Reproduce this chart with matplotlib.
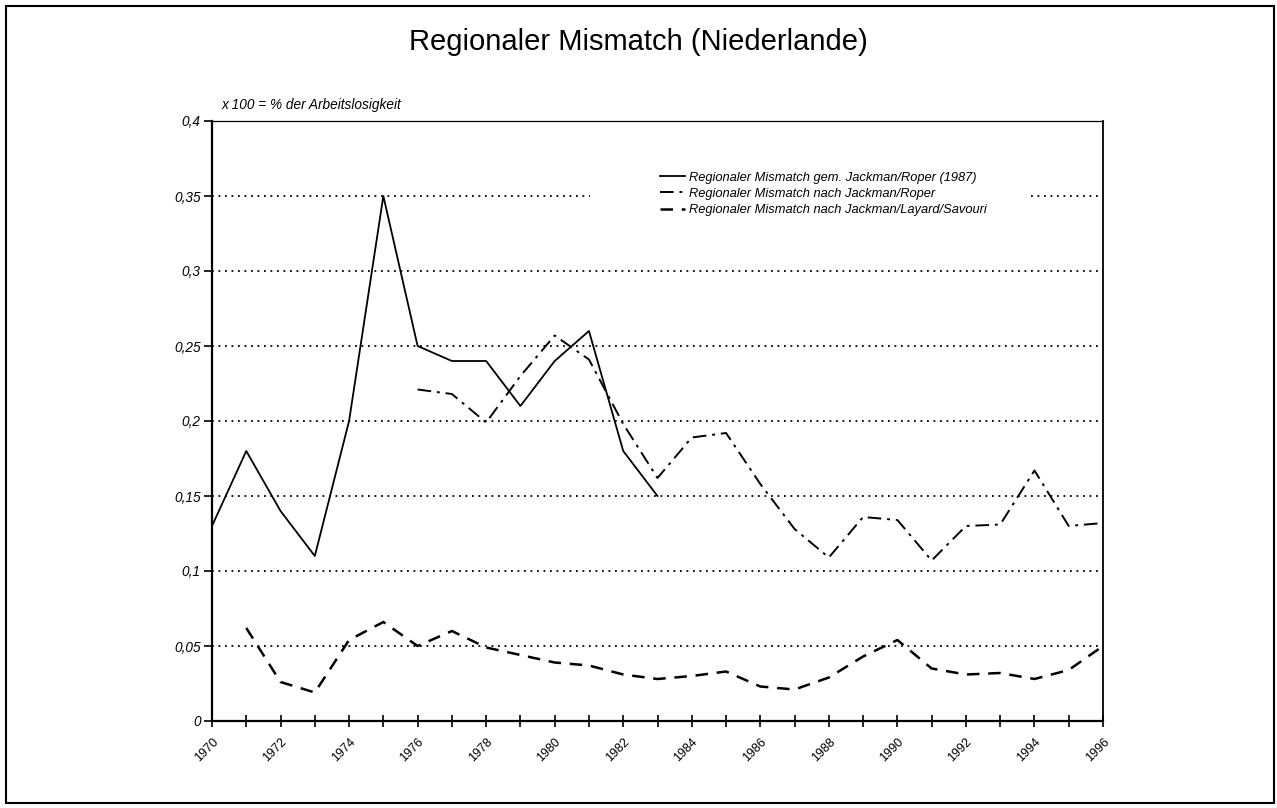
import matplotlib
matplotlib.use("Agg")
import matplotlib.pyplot as plt
from matplotlib.patches import Rectangle
import numpy as np

plt.rcParams['font.family'] = ['Liberation Sans', 'DejaVu Sans']

# data
years_gem = np.arange(1970, 1984)
mismatch_gem = [0.13, 0.18, 0.14, 0.11, 0.20, 0.35, 0.25, 0.24, 0.24, 0.21,
                0.24, 0.26, 0.18, 0.15]

years_jr = np.arange(1976, 1997)
mismatch_jr = [0.221, 0.218, 0.199, 0.230, 0.257, 0.241, 0.198, 0.162, 0.189,
               0.192, 0.158, 0.128, 0.109, 0.136, 0.134, 0.107, 0.130, 0.131,
               0.167, 0.130, 0.132]

years_jls = np.arange(1971, 1997)
mismatch_jls = [0.062, 0.026, 0.019, 0.054, 0.066, 0.050, 0.060, 0.049, 0.044,
                0.039, 0.037, 0.031, 0.028, 0.030, 0.033, 0.023, 0.021, 0.029,
                0.043, 0.054, 0.035, 0.031, 0.032, 0.028, 0.034, 0.050]

labels = ['Regionaler Mismatch gem. Jackman/Roper (1987)',
          'Regionaler Mismatch nach Jackman/Roper',
          'Regionaler Mismatch nach Jackman/Layard/Savouri']

y_ticks = [0, 0.05, 0.1, 0.15, 0.2, 0.25, 0.3, 0.35, 0.4]
y_ticklabels = ['0', '0,05', '0,1', '0,15', '0,2', '0,25', '0,3', '0,35', '0,4']

W, H = 1277, 808
fig = plt.figure(figsize=(W / 100, H / 100), dpi=100)
ax = fig.add_axes([212 / W, 1 - 721 / H, (1103 - 212) / W, (721 - 121) / H])

# dotted horizontal gridlines
for v in y_ticks[1:-1]:
    ax.axhline(v, color='black', lw=1.3, ls=(0, (1, 2.6)), zorder=1)

ax.plot(years_gem, mismatch_gem, color='black', lw=1.3, label=labels[0], zorder=3)
ax.plot(years_jr, mismatch_jr, color='black', lw=1.4,
        ls=(0, (7, 3, 1.5, 3)), label=labels[1], zorder=3)
ax.plot(years_jls, mismatch_jls, color='black', lw=1.8,
        ls=(0, (5, 3.5)), label=labels[2], zorder=3)

ax.set_xlim(1970, 1996)
ax.set_ylim(0, 0.4)

ax.set_xticks(np.arange(1970, 1997))
ax.set_xticklabels([str(y) if y % 2 == 0 else '' for y in range(1970, 1997)],
                   rotation=45, ha='right', va='top', rotation_mode='anchor',
                   fontsize=9)
ax.tick_params(axis='x', direction='inout', length=9, width=1.2, pad=6)

ax.set_yticks(y_ticks)
ax.set_yticklabels(y_ticklabels, fontsize=9.8, style='italic')
ax.tick_params(axis='y', direction='out', length=6, width=1.2, pad=2)

ax.spines['left'].set_linewidth(1.6)
ax.spines['bottom'].set_linewidth(1.6)
ax.spines['right'].set_linewidth(1.3)
ax.spines['top'].set_linewidth(0.9)

# white box behind the legend hides part of the 0.35 gridline
ax.add_patch(Rectangle((590 / W, 1 - 225 / H), 440 / W, 62 / H,
                       transform=fig.transFigure, facecolor='white',
                       edgecolor='none', zorder=2))

leg = fig.legend(loc='upper left', bbox_to_anchor=(648 / W, 1 - 160 / H),
                 frameon=False, handlelength=2.0, handletextpad=0.3,
                 labelspacing=0.33, prop={'size': 9.3, 'style': 'italic'})

fig.text(222 / W, 1 - 105 / H, 'x 100 = % der Arbeitslosigkeit',
         fontsize=9.8, style='italic', va='center', ha='left')

fig.text(0.5, 1 - 42 / H, 'Regionaler Mismatch (Niederlande)',
         fontsize=21, ha='center', va='center')

# frame round the whole figure
fig.patches.append(Rectangle((6 / W, 5 / H), 1268 / W, 797 / H,
                             transform=fig.transFigure, fill=False,
                             edgecolor='black', lw=1.5))

fig.savefig('out.png', dpi=100)
